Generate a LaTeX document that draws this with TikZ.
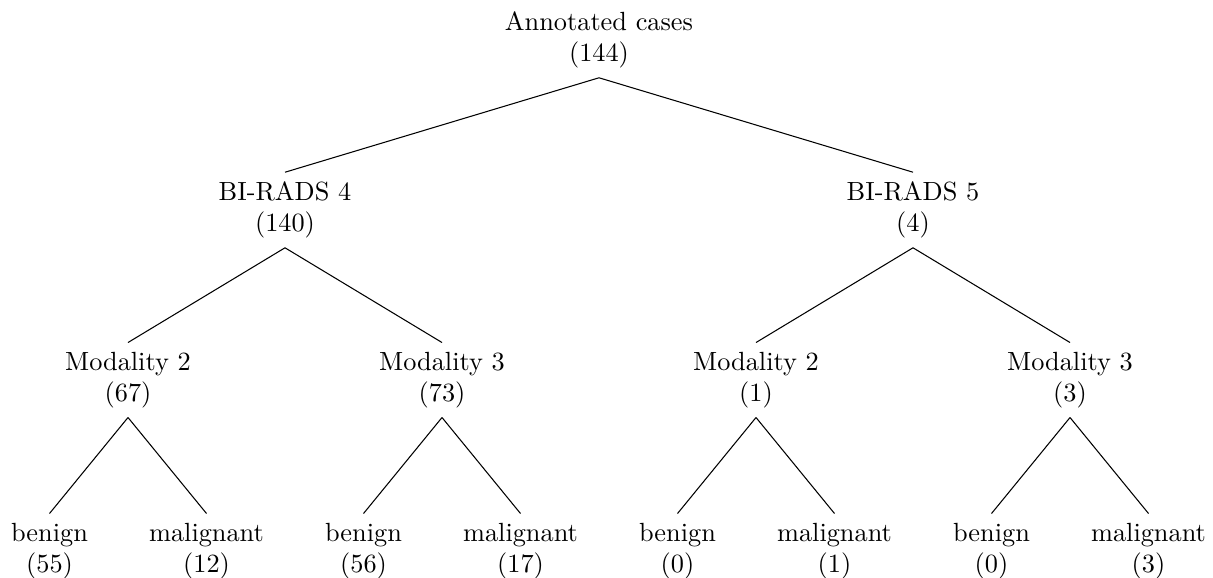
\documentclass[tikz,border=0pt]{standalone}
\begin{document}
\begin{tikzpicture}[x=0.3802pt, y=-0.3802pt,
  treenode/.style={align=center},
  branch/.style={draw, line width=0.4pt}]
\useasboundingbox (0,0) rectangle (1213,577);

% root
\node[treenode] (root) at (599,40) {Annotated cases\\(144)};

% BI-RADS level
\node[treenode] (b4) at (285,210) {BI-RADS 4\\(140)};
\node[treenode] (b5) at (913,210) {BI-RADS 5\\(4)};

% modality level
\node[treenode] (b4m2) at (128,380) {Modality 2\\(67)};
\node[treenode] (b4m3) at (442,380) {Modality 3\\(73)};
\node[treenode] (b5m2) at (756,380) {Modality 2\\(1)};
\node[treenode] (b5m3) at (1070,380) {Modality 3\\(3)};

% outcome level
\node[treenode] (l1) at (49.5,551) {benign\\(55)};
\node[treenode] (l2) at (206.5,551) {malignant\\(12)};
\node[treenode] (l3) at (363.5,551) {benign\\(56)};
\node[treenode] (l4) at (520.5,551) {malignant\\(17)};
\node[treenode] (l5) at (677.5,551) {benign\\(0)};
\node[treenode] (l6) at (834.5,551) {malignant\\(1)};
\node[treenode] (l7) at (991.5,551) {benign\\(0)};
\node[treenode] (l8) at (1148.5,551) {malignant\\(3)};

% branches
\draw[branch] (root.south) -- (b4.north);
\draw[branch] (root.south) -- (b5.north);
\draw[branch] (b4.south) -- (b4m2.north);
\draw[branch] (b4.south) -- (b4m3.north);
\draw[branch] (b5.south) -- (b5m2.north);
\draw[branch] (b5.south) -- (b5m3.north);
\draw[branch] (b4m2.south) -- (l1.north);
\draw[branch] (b4m2.south) -- (l2.north);
\draw[branch] (b4m3.south) -- (l3.north);
\draw[branch] (b4m3.south) -- (l4.north);
\draw[branch] (b5m2.south) -- (l5.north);
\draw[branch] (b5m2.south) -- (l6.north);
\draw[branch] (b5m3.south) -- (l7.north);
\draw[branch] (b5m3.south) -- (l8.north);
\end{tikzpicture}
\end{document}
